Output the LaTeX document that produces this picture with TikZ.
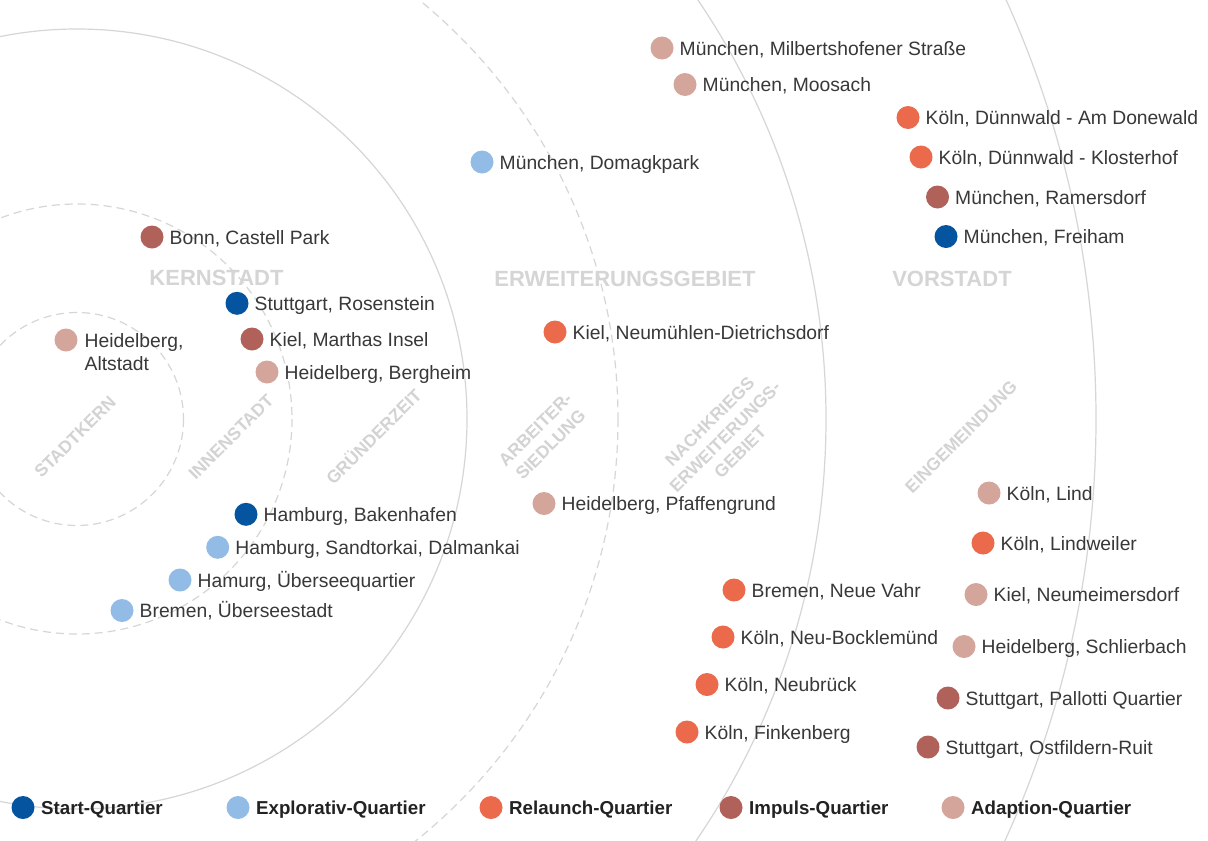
\documentclass[tikz,border=0pt]{standalone}
\usepackage{fontspec}
\setmainfont{Liberation Sans}
\definecolor{ringgray}{HTML}{D6D6D6}
\definecolor{zonegray}{HTML}{D5D5D5}
\definecolor{subgray}{HTML}{D3D3D3}
\definecolor{txt}{HTML}{383838}
\definecolor{legtxt}{HTML}{222222}
\definecolor{startc}{HTML}{0554A0}
\definecolor{explc}{HTML}{92BCE6}
\definecolor{relc}{HTML}{EC6A4C}
\definecolor{impc}{HTML}{B0625A}
\definecolor{adac}{HTML}{D4A59B}
\newcommand{\qpoint}[5]{%
  \node[qd, fill=#4] (#1) at (#2,#3) {};
  \node[qt] (#1t) at ([xshift=17.5pt,yshift=-7pt]#1.center) {#5};}
\begin{document}
\begin{tikzpicture}[x=1pt,y=-1pt,
  ring/.style={draw=ringgray, line width=1.2pt},
  dring/.style={draw=ringgray, line width=1.2pt, dash pattern=on 8pt off 5pt},
  qd/.style={circle, inner sep=0pt, minimum size=23pt, draw=none},
  qt/.style={anchor=base west, inner sep=0pt, text=txt, font=\fontsize{19.3}{23}\selectfont},
  zone/.style={anchor=base, inner sep=0pt, text=zonegray, font=\bfseries\fontsize{22}{26}\selectfont},
  sub/.style={rotate=45, align=center, inner sep=0pt, text=subgray, font=\bfseries\fontsize{17.5}{21.5}\selectfont},
  leg/.style={anchor=base west, inner sep=0pt, text=legtxt, font=\bfseries\fontsize{18.7}{23}\selectfont}]
\useasboundingbox (0,0) rectangle (1208,841);
\fill[white] (0,0) rectangle (1208,841);
\begin{scope}
  \clip (0,0) rectangle (1208,841);
  \coordinate (c) at (77,419);
  \draw[dring] (c) circle[radius=106.5];
  \draw[dring] (c) circle[radius=215];
  \draw[ring]  (c) circle[radius=390];
  \draw[dring] (c) circle[radius=541];
  \draw[ring]  (c) circle[radius=749];
  \draw[ring]  (c) circle[radius=1019];
\end{scope}

% zone labels
\node[zone] (zk) at (216.5,285.5) {KERNSTADT};
\node[zone] (ze) at (625,286) {ERWEITERUNGSGEBIET};
\node[zone] (zv) at (952,286) {VORSTADT};

% rotated labels
\node[sub] (s1) at (75,437) {STADTKERN};
\node[sub] (s2) at (231,437) {INNENSTADT};
\node[sub] (s3) at (373,436) {GRÜNDERZEIT};
\node[sub] (s4) at (543,437) {ARBEITER-\\SIEDLUNG};
\node[sub] (s5) at (725,437) {NACHKRIEGS\\ERWEITERUNGS-\\GEBIET};
\node[sub] (s6) at (961,437) {EINGEMEINDUNG};

% points
\qpoint{p1}{662}{48}{adac}{München, Milbertshofener Straße}
\qpoint{p2}{685}{84.5}{adac}{München, Moosach}
\qpoint{p3}{908}{117.5}{relc}{Köln, Dünnwald - Am Donewald}
\qpoint{p4}{921}{157}{relc}{Köln, Dünnwald - Klosterhof}
\qpoint{p5}{937.5}{197}{impc}{München, Ramersdorf}
\qpoint{p6}{946}{236.5}{startc}{München, Freiham}
\qpoint{p7}{482}{162}{explc}{München, Domagkpark}
\qpoint{p8}{152}{237}{impc}{Bonn, Castell Park}
\qpoint{p9}{237}{303.3}{startc}{Stuttgart, Rosenstein}
\qpoint{p10}{252}{339}{impc}{Kiel, Marthas Insel}
\qpoint{p11}{267}{372}{adac}{Heidelberg, Bergheim}
\node[qd, fill=adac] (p12) at (66,340) {};
\node[qt] (p12t) at ([xshift=18.5pt,yshift=-7pt]p12.center) {Heidelberg,};
\node[qt] (p12u) at ([xshift=18.5pt,yshift=-30pt]p12.center) {Altstadt};
\qpoint{p13}{555}{332}{relc}{Kiel, Neumühlen-Dietrichsdorf}
\qpoint{p14}{544}{503.5}{adac}{Heidelberg, Pfaffengrund}
\qpoint{p15}{246}{514.3}{startc}{Hamburg, Bakenhafen}
\qpoint{p16}{217.7}{547.3}{explc}{Hamburg, Sandtorkai, Dalmankai}
\qpoint{p17}{180}{580}{explc}{Hamurg, Überseequartier}
\qpoint{p18}{122}{610.5}{explc}{Bremen, Überseestadt}
\qpoint{p19}{989}{493}{adac}{Köln, Lind}
\qpoint{p20}{983}{543}{relc}{Köln, Lindweiler}
\qpoint{p21}{976}{594.5}{adac}{Kiel, Neumeimersdorf}
\qpoint{p22}{964}{646.5}{adac}{Heidelberg, Schlierbach}
\qpoint{p23}{948}{698}{impc}{Stuttgart, Pallotti Quartier}
\qpoint{p24}{928}{747}{impc}{Stuttgart, Ostfildern-Ruit}
\qpoint{p25}{734}{590}{relc}{Bremen, Neue Vahr}
\qpoint{p26}{723}{637}{relc}{Köln, Neu-Bocklemünd}
\qpoint{p27}{707}{684.5}{relc}{Köln, Neubrück}
\qpoint{p28}{687}{732}{relc}{Köln, Finkenberg}

% legend
\node[qd, fill=startc] (l1) at (23,807.5) {};
\node[leg] (l1t) at ([xshift=18pt,yshift=-7pt]l1.center) {Start-Quartier};
\node[qd, fill=explc] (l2) at (238,807.5) {};
\node[leg] (l2t) at ([xshift=18pt,yshift=-7pt]l2.center) {Explorativ-Quartier};
\node[qd, fill=relc] (l3) at (491,807.5) {};
\node[leg] (l3t) at ([xshift=18pt,yshift=-7pt]l3.center) {Relaunch-Quartier};
\node[qd, fill=impc] (l4) at (731,807.5) {};
\node[leg] (l4t) at ([xshift=18pt,yshift=-7pt]l4.center) {Impuls-Quartier};
\node[qd, fill=adac] (l5) at (953,807.5) {};
\node[leg] (l5t) at ([xshift=18pt,yshift=-7pt]l5.center) {Adaption-Quartier};
\end{tikzpicture}
\end{document}
